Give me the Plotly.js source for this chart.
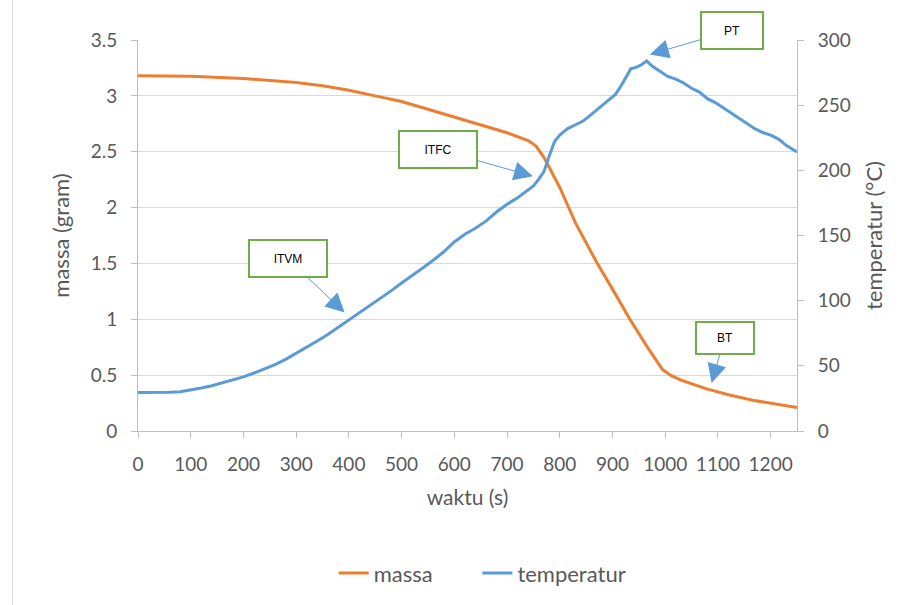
<!DOCTYPE html>
<html>
<head>
<meta charset="utf-8">
<script src="https://cdn.plot.ly/plotly-3.0.1.min.js"></script>
<style>
  html, body { margin: 0; padding: 0; background: #fff; }
  #wrap { position: relative; width: 917px; height: 605px; }
  #chart { position: absolute; left: 0; top: 0; width: 917px; height: 605px; }
  #edge { position: absolute; left: 12px; top: 0; width: 1px; height: 605px; background: #D9D9D9; }
</style>
</head>
<body>
<div id="wrap"><div id="chart"></div><div id="edge"></div></div>
<script>
// ---- data ----
const waktuMassa = [0, 100, 200, 300, 350, 400, 450, 500, 550, 600, 650, 700, 740, 755, 770, 785, 800, 830, 870, 900, 933, 965, 995, 1010, 1030, 1080, 1120, 1166, 1210, 1250];
const massa = [3.18, 3.175, 3.155, 3.12, 3.09, 3.05, 3.0, 2.95, 2.88, 2.81, 2.74, 2.67, 2.60, 2.55, 2.45, 2.32, 2.18, 1.86, 1.51, 1.27, 1.00, 0.76, 0.55, 0.50, 0.455, 0.375, 0.325, 0.275, 0.24, 0.21];

const waktuTemp = [0, 20, 40, 60, 80, 100, 120, 140, 160, 180, 200, 220, 240, 260, 280, 300, 320, 340, 360, 380, 400, 420, 440, 460, 480, 500, 520, 540, 560, 580, 600, 620, 640, 660, 680, 700, 720, 740, 750, 760, 770, 780, 790, 800, 815, 830, 845, 860, 875, 890, 905, 915, 925, 935, 945, 955, 965, 975, 990, 1005, 1020, 1035, 1050, 1065, 1080, 1095, 1110, 1125, 1140, 1155, 1170, 1185, 1200, 1215, 1230, 1250];
const temperatur = [29.5, 29.5, 29.5, 29.7, 30.2, 31.5, 33, 34.7, 36.8, 39, 41.5, 44.5, 47.5, 51, 55, 59.5, 64, 69, 74, 79.5, 85, 90.5, 96.5, 102, 107.5, 113.5, 119, 125, 131, 137.5, 145, 151, 155.5, 161, 168, 174, 179, 185, 188, 193, 199, 211, 222, 227, 232, 235, 238, 243, 248, 253, 258, 264, 271, 278, 279, 281, 284, 280, 276, 272, 270, 267, 263, 260, 255, 252, 248, 244, 240, 236, 232, 229, 227, 224, 219, 214];

const xTicks = [0, 100, 200, 300, 400, 500, 600, 700, 800, 900, 1000, 1100, 1200];
const yTicks = [0, 0.5, 1, 1.5, 2, 2.5, 3, 3.5];
const y2Ticks = [0, 50, 100, 150, 200, 250, 300];

const labels = ["ITVM", "ITFC", "PT", "BT"];
const labelX = [392, 749, 971, 1088];
const labelY = [1.06, 2.28, 3.37, 0.43];

// ---- chart ----
const FONT = "Lato, 'Open Sans', sans-serif";
const GREY = "#595959";
const AX = "#BFBFBF";

const traces = [
  { x: waktuMassa, y: massa, name: "massa", type: "scatter", mode: "lines",
    line: { color: "#ED7D31", width: 3 }, yaxis: "y", legend: "legend" },
  { x: waktuTemp, y: temperatur, name: "temperatur", type: "scatter", mode: "lines",
    line: { color: "#5B9BD5", width: 3 }, yaxis: "y2", legend: "legend2" }
];

const offsets = [[-57, -54], [-95, -27], [82, -24], [13, -45]];
const annotations = labels.map((t, i) => ({
  x: labelX[i], y: labelY[i], xref: "x", yref: "y",
  text: t, showarrow: true,
  ax: offsets[i][0], ay: offsets[i][1], axref: "pixel", ayref: "pixel",
  arrowcolor: "#5B9BD5", arrowwidth: 1, arrowhead: 2, arrowsize: 3.8,
  font: { family: "'Liberation Sans', Arial, sans-serif", size: 12, color: "#000" },
  bgcolor: "#fff", bordercolor: "#70AD47", borderwidth: 2,
  width: t === "ITVM" || t === "ITFC" ? 74 : (t === "PT" ? 58 : 54),
  height: t === "BT" ? 28 : 33, borderpad: 1
}));

const legendBase = { orientation: "h", y: -0.36, yanchor: "middle", xanchor: "left",
                     font: { size: 22, color: GREY }, bgcolor: "rgba(0,0,0,0)" };

const layout = {
  width: 917, height: 605,
  margin: { l: 138, r: 120, t: 40, b: 173 },
  paper_bgcolor: "#fff", plot_bgcolor: "#fff",
  font: { family: FONT, color: GREY, size: 19 },
  showlegend: true,
  legend: Object.assign({}, legendBase, { x: 0.297 }),
  legend2: Object.assign({}, legendBase, { x: 0.515 }),
  xaxis: {
    range: [0, 1250], tickvals: xTicks, ticks: "outside", ticklen: 6, tickcolor: AX,
    showline: true, linecolor: AX, linewidth: 1, showgrid: false, zeroline: false,
    tickfont: { size: 19, color: GREY }, ticklabelstandoff: 10,
    title: { text: "waktu (s)", font: { size: 21, color: GREY }, standoff: 16 }
  },
  yaxis: {
    range: [0, 3.5], tickvals: yTicks, ticks: "outside", ticklen: 6, tickcolor: AX,
    showline: true, linecolor: AX, showgrid: true, gridcolor: "#D9D9D9", zeroline: false,
    tickfont: { size: 19, color: GREY }, ticklabelstandoff: 10,
    title: { text: "massa (gram)", font: { size: 22, color: GREY }, standoff: 14 }
  },
  yaxis2: {
    range: [0, 300], tickvals: y2Ticks, overlaying: "y", side: "right",
    ticks: "outside", ticklen: 6, tickcolor: AX,
    showline: true, linecolor: AX, showgrid: false, zeroline: false,
    tickfont: { size: 19, color: GREY }, ticklabelstandoff: 10,
    title: { text: "temperatur (°C)", font: { size: 22, color: GREY }, standoff: 16 }
  },
  annotations: annotations
};

Plotly.newPlot("chart", traces, layout, { displayModeBar: false, staticPlot: true });
</script>
</body>
</html>
